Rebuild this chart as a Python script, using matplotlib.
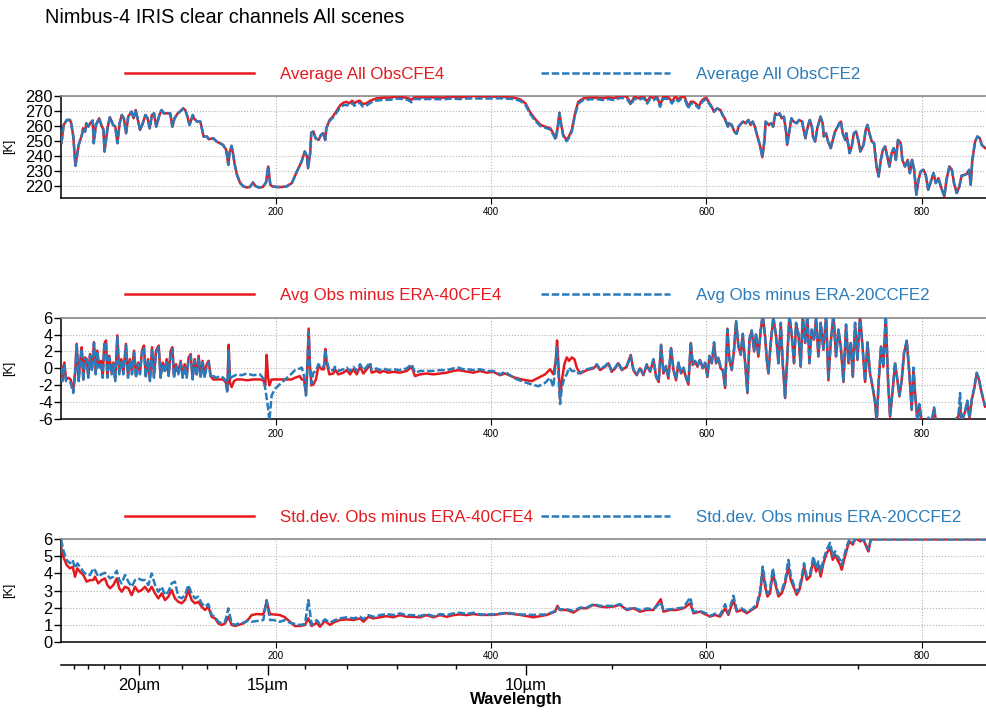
import numpy as np
import matplotlib.pyplot as plt

plt.rcParams['font.family'] = ['Liberation Sans', 'DejaVu Sans']
plt.rcParams['axes.unicode_minus'] = False

RED = '#e6191e'
BLUE = '#2a7bba'
LW = 1.8
DASH = (0, (3.0, 1.1))

# ---------------- panel 1: average brightness temperature [K] ----------------
p1_ch = [
    1, 3, 6, 9, 10, 12, 14, 17, 20, 21,
    23, 24, 26, 28, 30, 31, 33, 36, 38, 40,
    41, 44, 46, 49, 51, 53, 55, 57, 59, 61,
    63, 66, 68, 70, 72, 74, 76, 79, 81, 83,
    85, 87, 89, 92, 94, 96, 99, 102, 104, 106,
    109, 111, 114, 116, 118, 120, 123, 124, 127, 130,
    131, 133, 136, 138, 142, 145, 148, 151, 154, 156,
    157, 159, 160, 162, 164, 167, 170, 173, 176, 179,
    181, 184, 188, 191, 193, 195, 197, 201, 206, 210,
    215, 219, 224, 227, 229, 230, 232, 233, 235, 237,
    240, 242, 244, 246, 247, 250, 253, 257, 260, 263,
    266, 268, 271, 273, 275, 278, 281, 284, 288, 291,
    294, 300, 306, 312, 319, 323, 326, 329, 337, 346,
    356, 362, 371, 377, 384, 390, 408, 421, 427, 432,
    436, 441, 446, 450, 455, 458, 460, 462, 463.5, 465,
    467, 470, 472, 475, 478, 481, 486, 492, 498, 504,
    509, 514, 520, 526, 530, 533, 537, 541.5, 545, 548,
    551, 554, 557, 560, 565, 568, 571, 574, 577, 580,
    583, 585.5, 588, 590, 593, 595, 597, 600, 602, 605,
    607, 610, 613, 615, 617, 620, 621, 623.5, 626, 628,
    630, 632, 634, 636.5, 639, 641, 643, 645, 647, 650,
    652, 654, 655, 658, 660, 662, 664, 666, 668, 670,
    672, 674, 675, 677, 679, 681, 684, 686, 689, 690,
    692, 693, 696, 698, 699, 701, 703, 706, 708, 709,
    711, 713, 715.5, 717, 719.5, 722, 723.5, 725, 726.6, 729,
    730, 733, 735, 737, 739, 741, 743, 746, 748, 749.6,
    751, 753.6, 755.7, 758, 760, 762, 764, 766, 768, 770,
    772, 774, 776, 778, 780.5, 782, 784.5, 787, 789, 791,
    793, 795, 797, 799, 801.6, 803.7, 806, 808, 811, 813,
    815.5, 817.7, 821, 823, 825.7, 828, 830, 832.5, 835, 837,
    840, 842, 844, 845.5, 847, 849.6, 851.7, 854, 855.7, 859,
]
p1_cfe4 = [
    248.7, 260.8, 264.1, 264.1, 261.9, 253.1, 233.7, 247.6, 254.2, 258.6,
    256.4, 261.9, 259.7, 262.4, 263.7, 248.7, 260.8, 265.2, 260.8, 257.5,
    243.2, 259.7, 265.9, 260.8, 259.7, 248.7, 261.9, 267.4, 265.2, 255.3,
    266.3, 269.6, 265.2, 270.7, 264.1, 257.5, 260.8, 267.4, 265.2, 258.6,
    267.4, 268.5, 259.7, 267.4, 270.7, 268.5, 268.5, 268.5, 259.7, 265.2,
    268.5, 269.6, 271.8, 270.7, 266.3, 260.8, 267.4, 265.2, 263.0, 263.0,
    259.7, 253.1, 253.1, 251.3, 252.0, 249.8, 248.7, 247.6, 244.3, 234.3,
    242.1, 246.9, 243.2, 234.3, 227.7, 222.2, 220.0, 219.3, 219.6, 222.6,
    220.4, 219.3, 219.6, 222.6, 233.2, 221.1, 220.0, 219.6, 219.6, 220.0,
    222.2, 228.8, 236.5, 243.2, 239.9, 232.1, 242.1, 255.7, 256.4, 252.0,
    250.9, 254.2, 255.3, 250.9, 258.6, 264.1, 266.3, 270.7, 274.0, 275.6,
    276.2, 275.1, 276.9, 275.1, 276.2, 276.9, 274.7, 275.1, 276.9, 277.8,
    278.5, 278.9, 278.9, 279.6, 279.1, 278.5, 277.4, 279.1, 279.1, 279.1,
    278.9, 279.6, 279.1, 279.6, 280.0, 279.6, 279.6, 278.9, 277.8, 275.1,
    269.6, 264.6, 260.8, 259.7, 258.6, 254.9, 252.0, 259.7, 269.0, 261.9,
    254.2, 250.9, 252.6, 257.5, 268.5, 276.2, 278.5, 278.9, 278.9, 278.5,
    279.1, 278.5, 280.0, 279.6, 275.1, 279.6, 278.5, 280.0, 276.2, 279.6,
    278.5, 280.0, 274.0, 279.6, 279.1, 276.2, 279.6, 277.8, 279.6, 279.1,
    272.9, 276.2, 276.2, 275.1, 272.9, 276.2, 277.8, 278.9, 276.2, 272.9,
    269.6, 271.8, 270.7, 267.4, 265.2, 259.7, 261.9, 260.8, 256.4, 254.9,
    259.7, 261.5, 263.0, 261.9, 264.1, 260.8, 263.0, 259.7, 254.2, 246.5,
    239.4, 250.9, 263.0, 260.8, 261.9, 259.7, 268.5, 267.4, 268.5, 265.2,
    266.3, 256.4, 247.6, 256.4, 265.2, 263.0, 261.9, 264.1, 263.0, 258.6,
    252.0, 256.4, 264.1, 259.7, 253.1, 249.8, 258.6, 266.3, 261.9, 253.1,
    255.3, 249.8, 245.4, 249.8, 256.4, 259.7, 261.9, 263.0, 255.3, 250.9,
    255.3, 242.1, 246.5, 255.3, 256.4, 250.9, 243.2, 247.6, 257.5, 260.8,
    256.4, 249.8, 248.7, 233.2, 226.6, 237.6, 244.3, 246.5, 239.9, 233.2,
    242.1, 245.4, 237.6, 250.9, 248.7, 237.6, 233.2, 237.6, 228.8, 237.6,
    231.0, 214.5, 224.4, 229.9, 231.0, 227.7, 217.8, 222.2, 228.8, 222.2,
    225.5, 220.0, 213.4, 224.4, 233.2, 231.0, 222.2, 215.6, 220.0, 227.1,
    227.7, 228.4, 231.0, 221.1, 237.6, 249.8, 253.1, 252.0, 247.6, 245.4,
]
p1_cfe2 = [
    248.7, 260.8, 264.1, 264.1, 261.9, 253.1, 233.7, 247.6, 254.2, 258.6,
    256.4, 261.9, 259.7, 262.4, 263.7, 248.7, 260.8, 265.2, 260.8, 257.5,
    243.2, 259.7, 265.9, 260.8, 259.7, 248.7, 261.9, 267.4, 265.2, 255.3,
    266.3, 269.6, 265.2, 270.7, 264.1, 257.5, 260.8, 267.4, 265.2, 258.6,
    267.4, 268.5, 259.7, 267.4, 270.7, 268.5, 268.5, 268.5, 259.7, 265.2,
    268.5, 269.6, 271.8, 270.7, 266.3, 260.8, 267.4, 265.2, 263.0, 263.0,
    259.7, 253.1, 253.1, 251.3, 252.0, 249.8, 248.7, 247.6, 244.3, 234.3,
    242.1, 246.9, 243.2, 234.3, 227.7, 222.2, 220.0, 219.3, 219.6, 222.6,
    220.4, 219.3, 219.6, 222.6, 233.2, 221.1, 220.0, 219.6, 219.6, 220.0,
    222.2, 228.8, 236.5, 243.2, 239.9, 232.1, 242.1, 255.7, 256.4, 252.0,
    250.9, 254.2, 255.3, 250.9, 258.6, 263.5, 265.5, 269.5, 272.5, 274.0,
    274.0, 273.5, 275.5, 273.5, 275.0, 275.5, 273.0, 273.5, 275.5, 276.5,
    277.0, 277.5, 277.5, 278.3, 278.0, 277.3, 275.8, 278.0, 278.0, 278.0,
    277.8, 278.3, 278.0, 278.3, 278.5, 278.3, 278.5, 278.0, 276.8, 274.0,
    268.5, 263.5, 260.0, 259.0, 257.8, 254.0, 251.0, 259.0, 268.5, 261.0,
    253.5, 250.0, 251.8, 256.5, 267.5, 275.0, 277.5, 277.8, 278.0, 277.3,
    278.0, 277.3, 278.8, 278.3, 274.0, 278.3, 277.3, 278.8, 275.0, 278.3,
    277.3, 278.8, 272.8, 278.3, 278.0, 275.0, 278.3, 276.5, 278.3, 278.0,
    271.8, 275.0, 275.0, 274.0, 271.8, 275.0, 276.8, 277.8, 275.5, 272.3,
    269.6, 271.8, 270.7, 267.4, 265.2, 259.7, 261.9, 260.8, 256.4, 254.9,
    259.7, 261.5, 263.0, 261.9, 264.1, 260.8, 263.0, 259.7, 254.2, 246.5,
    239.4, 250.9, 263.0, 260.8, 261.9, 259.7, 268.5, 267.4, 268.5, 265.2,
    266.3, 256.4, 247.6, 256.4, 265.2, 263.0, 261.9, 264.1, 263.0, 258.6,
    252.0, 256.4, 264.1, 259.7, 253.1, 249.8, 258.6, 266.3, 261.9, 253.1,
    255.3, 249.8, 245.4, 249.8, 256.4, 259.7, 261.9, 263.0, 255.3, 250.9,
    255.3, 242.1, 246.5, 255.3, 256.4, 250.9, 243.2, 247.6, 257.5, 260.8,
    256.4, 249.8, 248.7, 233.2, 226.6, 237.6, 244.3, 246.5, 239.9, 233.2,
    242.1, 245.4, 237.6, 250.9, 248.7, 237.6, 233.2, 237.6, 228.8, 237.6,
    231.0, 214.5, 224.4, 229.9, 231.0, 227.7, 217.8, 222.2, 228.8, 222.2,
    225.5, 220.0, 213.4, 224.4, 233.2, 231.0, 222.2, 215.6, 220.0, 227.1,
    227.7, 228.4, 231.0, 221.1, 237.6, 249.8, 253.1, 252.0, 247.6, 245.4,
]

# ---------------- panel 2: mean obs minus reanalysis [K] ----------------
p2_ch = [
    1, 2, 3.7, 5.2, 7.4, 9.5, 12, 13.9, 15.1, 17,
    18.2, 19.8, 21.3, 22.8, 24.4, 25.9, 27.5, 29.3, 31.2, 32.8,
    34.3, 35.8, 37.7, 39.3, 40.8, 42.4, 43.6, 45.4, 47.6, 49.2,
    51, 52.9, 54.7, 56.6, 58.5, 60.9, 62.8, 64.6, 66.5, 68.4,
    70.2, 72.1, 73.9, 75.8, 77.6, 79.2, 81.4, 83.2, 85.1, 86.9,
    88.8, 91.3, 93.1, 95, 97.2, 98.7, 100.6, 102.4, 104, 105.5,
    107.4, 109.5, 111.7, 113.6, 115.4, 117.3, 119.1, 121, 122.8, 124.7,
    126.6, 128.4, 130.3, 132.1, 134, 135.9, 137.7, 139.6, 142, 145.1,
    148.2, 151.3, 153.8, 155, 156.3, 157.5, 159.1, 161.2, 163.7, 168.4,
    173, 179.2, 185.4, 188.5, 190.3, 191.6, 192.8, 194.1, 196.2, 199.3,
    207.1, 214.8, 217.9, 222.5, 224.1, 226.3, 228.1, 229.3, 230.6, 231.8,
    233.1, 234.9, 237.4, 239.6, 242.7, 244.8, 246.1, 247.3, 249.8, 253.5,
    255, 258.1, 262.8, 265.9, 269, 272.1, 275.2, 278.3, 281.4, 284.5,
    287.6, 289.1, 293.7, 296.8, 299.9, 304.6, 309.2, 315.4, 321.6, 326.3,
    329.3, 334, 340.2, 346.4, 352.6, 358.8, 365, 369.6, 374.2, 378.9,
    383.5, 389.7, 395.9, 402.1, 408.3,
    413, 422.3, 428.5, 437.8, 444, 450.2, 454.8, 457.9, 460.1, 461.3,
    462.6, 464.1, 465.7, 468.1, 470.3, 472.5, 475, 477.4, 479.6,
    482.7, 488.9, 495, 498.2, 501.3, 505.9, 509, 512, 515.2, 518.3,
    521.4, 526, 529.7, 532.2, 535.3, 538.4, 541.5, 544.6, 547.7, 550.8,
    553.3, 555.7, 557.9, 560.1, 562.5, 564.7, 567.2, 569.4, 571.8, 574,
    576.5, 578.7, 580.8, 583.3, 585.5, 587.3, 589.5, 591.7, 594.1, 596.6,
    598.8, 601, 602.8, 605, 607.1, 609, 611.2, 613.3, 615.2, 617.4,
    619.5, 621.4, 623.5, 625.7, 627.6, 629.7, 631.9, 633.8, 636, 638.1,
    640, 642.1, 644.3, 646.1, 648.3, 650.5, 652.3, 654.5, 656.1, 657.6,
    659.8, 662.2, 664.7, 666.9, 669.1, 670.9, 673.1, 675.2, 677.1, 679.3,
    681.4, 683.3, 685.5, 687.6, 689.5, 691.7, 693.8, 695.7, 697.8, 700,
    701.9, 704, 706.2, 708.7, 711.2, 713.3, 715.5, 718, 720.4, 722.6,
    724.8, 727.3, 729.7, 732, 734.1, 736, 738.1, 740.3, 742.7, 745.2,
    747.4, 749.6, 752, 754.5, 756.7, 758.2, 760.1, 762.2, 764.4, 766.6,
    768.7, 770.6, 773.1, 775.2, 777.4, 779.3, 781.4, 783.6, 786.1, 788.5,
    790.7, 792.3, 793.8, 796, 797.8, 800, 803.1, 806.2, 809.3, 811.5,
    813.3, 817, 823.2, 829.4, 834.1, 835.6, 837.2, 840.3, 842.4, 844.3,
    846.5, 848.6, 851.1, 852.9, 855.7, 858.8,
]
p2_era40 = [
    0.3, -1.3, 0.7, -1.3, -1.1, -1.3, -2.6, -0.1, 2.9, -1.3,
    0.7, 2.5, -1.3, 1.3, 1.1, -0.9, 1.7, -0.1, 3.1, -0.5,
    2.1, 0.3, 0.9, -0.9, 2.9, 3.3, -0.9, 1.5, -0.5, 0.7,
    -1.3, 3.9, -0.5, 1.1, -0.5, 2.9, -0.9, 1.1, -0.5, 2.1,
    -0.9, 0.7, -0.5, 2.1, 2.7, -0.9, 1.1, -1.3, 2.5, -0.9,
    2.1, 2.7, -0.9, 0.7, -0.3, 1.1, -0.7, 2.1, 2.5, -0.9,
    0.5, -0.5, 0.9, -0.9, 0.5, -0.9, 1.3, 1.7, -1.1, 1.1,
    -0.7, 1.5, -0.9, 0.9, -0.9, 0.5, 0.9, -0.9, -1.3, -1.3,
    -1.3, -1.3, -1.7, -2.6, 2.8, -1.7, -2.2, -1.5, -1.3, -1.3,
    -1.4, -1.3, -1.3, -1.4, -2.0, 1.6, -0.9, -2.0, -1.3, -1.3,
    -1.3, -1.3, -1.1, -0.9, -1.3, -1.3, -3.0, -0.1, 4.7, 0.3,
    -2.0, -1.9, -1.3, 0.3, -0.1, -0.1, 2.3, 0.7, -0.7, -0.6,
    -0.1, -0.7, -0.5, -0.2, -0.7, -0.1, -0.7, 0.2, -0.6, -0.1,
    0.5, -0.5, -0.3, -0.5, -0.3, -0.5, -0.4, -0.5, -0.3, 0.2,
    -0.9, -0.7, -0.6, -0.7, -0.6, -0.5, -0.3, -0.2, -0.3, -0.4,
    -0.5, -0.3, -0.5, -0.4, -0.8,
    -0.6, -1.1, -1.3, -1.5, -1.1, -0.7, -0.1, -0.7, 0.9, 3.3,
    0.5, -3.6, -1.5, 0.5, 1.3, 0.9, 1.3, 1.1, 0.1,
    -0.6, -0.2, 0.0, 0.4, -0.2, 0.2, 0.6, -0.4, 0.0, 0.6,
    -0.2, 0.2, 1.6, -0.2, -0.8, 0.0, -0.8, 0.4, -0.4, 1.0,
    -1.0, -1.6, 2.8, -0.6, 0.2, -1.2, 2.4, -0.2, -1.4, 0.6,
    -0.6, 0.0, -1.0, -1.9, 3.0, 0.4, 0.8, 0.2, 1.0, 0.0,
    0.6, -1.0, 1.4, 0.6, 3.0, 0.6, 1.2, 0.0, -0.2, -2.3,
    4.7, 1.0, -0.2, 2.2, 5.5, 2.6, 1.6, 4.0, 0.6, -2.9,
    3.4, 4.4, 2.0, 4.0, 1.4, 4.5, 6.3, 3.8, 1.0, -0.6,
    3.0, 6.0, 3.8, 0.6, 5.3, 0.6, -3.5, 1.4, 6.3, 3.8,
    0.6, 5.3, 4.0, 0.2, 6.3, 3.0, 6.3, 0.6, 4.5, 3.4,
    5.9, 1.4, 5.3, 2.2, 6.3, -1.4, 3.0, 6.3, 1.4, 4.5,
    2.6, -1.6, 5.1, 0.6, 3.0, -1.0, 5.3, 1.0, 6.3, 2.2,
    -1.6, 3.0, -0.6, -2.3, -4.1, -6.3, -1.4, 2.6, 0.2, 6.3,
    -1.4, -5.7, -2.5, 0.6, -1.4, -3.3, -1.4, 1.8, 3.2, -0.6,
    -4.9, 0.0, -2.9, -6.3, -4.3, -6.3, -6.3, -5.9, -6.3, -4.7,
    -6.3, -6.3, -6.3, -6.3, -5.7, -4.5, -6.3, -5.1, -3.9, -5.9,
    -3.7, -2.5, -0.6, -1.2, -2.9, -4.5,
]
p2_era20c = [
    0.1, -1.5, 0.5, -1.5, -1.5, -1.7, -2.9, -0.3, 2.9, -1.5,
    0.5, 2.3, -1.5, 1.1, 1.1, -1.1, 1.5, -0.3, 3.0, -0.7,
    2.0, 0.1, 0.7, -1.1, 2.7, 3.1, -1.1, 1.3, -0.7, 0.5,
    -1.5, 3.7, -0.7, 0.9, -0.7, 2.7, -1.1, 0.9, -0.7, 1.9,
    -1.1, 0.5, -0.7, 1.9, 2.5, -1.1, 0.9, -1.5, 2.3, -1.1,
    1.9, 2.5, -1.1, 0.5, -0.5, 0.9, -0.9, 1.9, 2.3, -1.1,
    0.3, -0.7, 0.7, -1.1, 0.3, -1.1, 1.1, 1.5, -1.3, 0.9,
    -0.9, 1.3, -1.1, 0.7, -1.1, 0.3, 0.7, -1.1, -0.9, -1.1,
    -0.9, -1.1, -1.5, -2.9, 2.2, -1.3, -1.0, -0.9, -0.7, -0.8,
    -0.6, -0.8, -0.7, -1.2, -2.4, -3.5, -4.6, -6.2, -3.2, -2.4,
    -1.5, -0.6, -0.2, 0.0, 0.1, -0.9, -3.2, -0.1, 4.3, 0.3,
    -1.8, -0.5, -0.3, 0.5, 0.1, 0.3, 2.2, 0.9, -0.2, -0.2,
    0.2, -0.3, -0.1, 0.1, -0.3, 0.2, -0.3, 0.5, -0.2, 0.2,
    0.7, -0.2, 0.0, -0.2, 0.0, -0.2, -0.1, -0.2, 0.0, 0.5,
    -0.5, -0.3, -0.3, -0.3, -0.2, -0.2, 0.0, 0.1, -0.1, -0.1,
    -0.2, -0.1, -0.3, -0.3, -0.7,
    -0.4, -1.2, -1.5, -1.9, -2.1, -1.7, -1.1, -2.2, 0.9, 2.5,
    -0.9, -4.2, -2.3, -1.1, -0.7, 0.1, -0.3, -0.3, -0.6,
    -0.5, -0.1, 0.1, 0.5, -0.1, 0.3, 0.7, -0.3, 0.1, 0.7,
    -0.1, 0.3, 1.5, -0.1, -0.7, 0.1, -0.7, 0.5, -0.3, 1.1,
    -0.9, -1.5, 2.7, -0.5, 0.3, -1.1, 2.5, -0.1, -1.3, 0.7,
    -0.5, 0.1, -0.9, -1.8, 3.1, 0.5, 0.9, 0.3, 1.1, 0.1,
    0.7, -0.9, 1.5, 0.7, 3.1, 0.7, 1.3, 0.1, -0.1, -2.2,
    4.6, 1.1, -0.1, 2.3, 5.6, 2.7, 1.7, 4.1, 0.7, -2.8,
    3.5, 4.5, 2.1, 4.1, 1.5, 4.6, 6.3, 3.9, 1.1, -0.5,
    3.1, 6.1, 3.9, 0.7, 5.4, 0.7, -3.4, 1.5, 6.3, 3.9,
    0.7, 5.4, 4.1, 0.3, 6.3, 3.1, 6.3, 0.7, 4.6, 3.5,
    6.0, 1.5, 5.4, 2.3, 6.3, -1.3, 3.1, 6.3, 1.5, 4.6,
    2.7, -1.5, 5.2, 0.7, 3.1, -0.9, 5.4, 1.1, 6.3, 2.3,
    -1.5, 3.1, -0.5, -2.2, -4.0, -6.3, -1.3, 2.7, 0.3, 6.3,
    -1.3, -5.6, -2.4, 0.7, -1.3, -3.2, -1.3, 1.9, 3.3, -0.5,
    -4.8, 0.1, -2.8, -6.3, -4.2, -6.3, -6.3, -5.8, -6.3, -4.6,
    -6.3, -6.3, -6.3, -6.3, -5.6, -2.9, -6.3, -5.0, -3.8, -5.8,
    -3.6, -2.4, -0.5, -1.1, -2.8, -4.4,
]

# ---------------- panel 3: std. dev. obs minus reanalysis [K] ----------------
p3_ch = [
    0.6, 2.7, 5.8, 8.9, 11.4, 13.6, 15.7, 18.2, 21.3, 24.4,
    27.5, 30.6, 32.1, 35.2, 38.3, 41.4, 43.6, 46.1, 49.2, 52.3,
    54.7, 56.9, 60, 63.1, 66.2, 69.3, 72.4, 75.5, 78.6, 81.7,
    84.8, 87.9, 91, 94.1, 97.2, 100.3, 103.3, 106.4, 109.5, 112.6,
    115.7, 118.8, 121.9, 125, 128.1, 131.2, 134.3, 137.4, 140.5, 143.6,
    146.7, 149.8, 152.9, 156, 159.1, 162.2, 165.3, 169.9, 174.6, 177.6,
    182.3, 188.5, 191.6, 194.7, 197.8, 204, 208.6, 213.2, 217.9, 222.5,
    227.2, 230.3, 233.4, 238, 241.1, 245.8, 250.4, 255, 259.7, 265.9,
    272.1, 278.3, 281.4, 286, 290.7, 296.8, 303, 309.2, 315.4, 321.6,
    327.8, 334, 340.2, 346.4, 352.6, 358.8, 365, 371.1, 377.3, 383.5,
    390, 402, 414.6, 427, 439.3, 451.7, 459.5, 461.6, 464, 470.3,
    476.5, 482.7, 488.9, 495, 501.3, 507.4, 513.6, 519.8, 526, 532.2,
    538.4, 544.6, 550.8, 557.6, 560.1, 566.3, 572.5, 578.7, 585, 588,
    594.1, 600.3, 603.4, 608.1, 612.7, 617.4, 620.4, 625.1, 628.2, 632.8,
    637.5, 642.1, 646.8, 649.9, 652.3, 654.5, 656.7, 659.1, 661.6, 663.8,
    666.9, 670, 673.1, 676.2, 678.3, 680.8, 683.9, 686.4, 688.6, 690.7,
    693.2, 696.3, 699.4, 701.9, 704, 706.2, 708.7, 711.8, 714.9, 717.4,
    719.5, 721.7, 724.2, 725.7, 727.9, 730.4, 732.8, 736, 738.1, 740.3,
    742.8, 745.8, 749, 750.5, 752.7, 760, 780, 800, 820, 840,
    860,
]
p3_era40 = [
    5.57, 4.98, 4.49, 4.30, 4.39, 3.81, 4.30, 4.10, 3.91, 3.52,
    3.61, 3.61, 3.81, 3.42, 3.61, 3.71, 3.32, 3.13, 3.32, 3.71,
    3.13, 2.93, 3.22, 3.13, 2.73, 3.22, 2.93, 3.03, 3.22, 2.93,
    3.22, 2.83, 2.54, 2.83, 2.44, 2.64, 3.03, 2.54, 2.34, 2.25,
    2.44, 3.03, 2.44, 2.25, 2.34, 2.05, 1.86, 2.05, 1.46, 1.37,
    1.07, 0.98, 1.07, 1.46, 0.98, 0.92, 0.98, 1.07, 1.31, 1.56,
    1.62, 1.60, 2.34, 1.62, 1.60, 1.56, 1.43, 1.17, 0.92, 0.92,
    0.98, 1.37, 0.92, 1.11, 0.88, 1.23, 0.98, 1.17, 1.27, 1.31,
    1.27, 1.37, 1.17, 1.46, 1.37, 1.43, 1.50, 1.43, 1.56, 1.46,
    1.46, 1.43, 1.56, 1.43, 1.56, 1.46, 1.56, 1.60, 1.56, 1.62,
    1.57, 1.57, 1.67, 1.57, 1.43, 1.57, 1.76, 2.10, 1.86, 1.86,
    1.71, 1.96, 1.96, 2.16, 2.06, 2.02, 2.06, 2.16, 1.86, 1.96,
    1.76, 1.86, 1.86, 2.49, 1.76, 1.86, 1.86, 1.96, 2.25, 1.67,
    1.76, 1.57, 1.47, 1.57, 1.47, 1.96, 1.57, 2.45, 1.76, 1.86,
    1.67, 1.86, 2.06, 2.84, 4.22, 3.24, 2.65, 2.84, 4.02, 3.43,
    2.65, 2.84, 3.43, 4.41, 3.63, 3.24, 2.75, 3.04, 3.63, 4.41,
    3.63, 3.82, 4.80, 4.12, 4.51, 3.82, 4.61, 5.20, 5.49, 4.80,
    5.10, 4.80, 4.51, 4.22, 4.80, 5.39, 5.88, 5.69, 6.00, 6.00,
    5.88, 6.00, 5.49, 5.29, 6.00, 6.00, 6.00, 6.00, 6.00, 6.00,
    6.00,
]
p3_era20c = [
    6.00, 5.37, 4.79, 4.59, 4.79, 4.30, 4.59, 4.39, 4.10, 3.91,
    3.91, 4.30, 4.20, 3.81, 3.96, 4.04, 3.91, 3.71, 3.81, 4.16,
    3.61, 3.42, 3.91, 3.52, 3.22, 3.61, 3.71, 3.61, 3.61, 3.32,
    4.00, 3.32, 2.93, 3.22, 2.73, 2.93, 3.42, 3.52, 2.64, 2.54,
    2.73, 3.32, 2.83, 2.54, 2.64, 2.25, 2.05, 2.21, 1.56, 1.46,
    1.17, 1.07, 1.17, 1.95, 1.07, 0.98, 1.07, 1.11, 1.23, 1.17,
    1.21, 1.27, 2.44, 1.27, 1.27, 1.17, 1.27, 1.11, 1.04, 0.98,
    1.04, 2.44, 0.98, 1.27, 1.04, 1.31, 1.11, 1.27, 1.37, 1.43,
    1.37, 1.46, 1.31, 1.56, 1.46, 1.56, 1.62, 1.56, 1.66, 1.56,
    1.56, 1.50, 1.62, 1.50, 1.62, 1.56, 1.66, 1.70, 1.62, 1.70,
    1.60, 1.60, 1.70, 1.60, 1.57, 1.60, 1.80, 2.00, 1.90, 1.90,
    1.80, 2.00, 2.00, 2.20, 2.10, 2.10, 2.10, 2.20, 1.90, 2.00,
    1.85, 1.95, 1.90, 2.30, 1.85, 1.90, 1.95, 2.00, 2.60, 1.75,
    1.80, 1.65, 1.50, 1.65, 1.55, 2.20, 1.65, 2.70, 1.85, 1.95,
    1.75, 1.90, 2.20, 3.00, 4.40, 3.50, 2.80, 3.00, 4.30, 3.60,
    2.80, 3.00, 3.60, 4.80, 3.90, 3.40, 2.90, 3.20, 3.80, 4.60,
    3.80, 4.00, 5.00, 4.30, 4.70, 4.10, 4.80, 5.40, 5.80, 5.00,
    5.30, 5.00, 4.80, 4.50, 5.00, 5.60, 6.00, 5.80, 6.00, 6.00,
    6.00, 6.00, 5.60, 5.40, 6.00, 6.00, 6.00, 6.00, 6.00, 6.00,
    6.00,
]

labels = [
    ('Average All ObsCFE4', 'Average All ObsCFE2'),
    ('Avg Obs minus ERA-40CFE4', 'Avg Obs minus ERA-20CCFE2'),
    ('Std.dev. Obs minus ERA-40CFE4', 'Std.dev. Obs minus ERA-20CCFE2'),
]
series = [
    (p1_ch, p1_cfe4, p1_cfe2),
    (p2_ch, p2_era40, p2_era20c),
    (p3_ch, p3_era40, p3_era20c),
]
ylims = [(212.5, 280), (-6, 6), (0, 6)]
yticks = [np.arange(220, 281, 10), np.arange(-6, 7, 2), np.arange(0, 7, 1)]
# [left, bottom, width, height] in figure fractions
boxes = [
    [0.0619, 0.7235, 0.9381, 0.1422],
    [0.0619, 0.4136, 0.9381, 0.1422],
    [0.0619, 0.1025, 0.9381, 0.1432],
]


# IRIS channel index <-> wavelength in micrometres
def ch_to_um(ch):
    ch = np.asarray(ch, dtype=float)
    return 1e4 / (398.8 + 1.39 * ch)


def um_to_ch(um):
    um = np.asarray(um, dtype=float)
    return (1e4 / um - 398.8) / 1.39


fig = plt.figure(figsize=(9.86, 7.15), dpi=100)
fig.text(0.0456, 0.975, 'Nimbus-4 IRIS clear channels All scenes',
         fontsize=14.3, va='center', ha='left')

axes = []
for i, (box, (x, r, b), (lr, lb)) in enumerate(zip(boxes, series, labels)):
    ax = fig.add_axes(box)
    axes.append(ax)
    line_r, = ax.plot(x, r, color=RED, lw=LW, solid_joinstyle='round', zorder=3)
    line_b, = ax.plot(x, b, color=BLUE, lw=LW, linestyle=DASH, zorder=4)

    ax.set_xlim(0.6, 859.7)
    ax.set_ylim(*ylims[i])
    ax.set_yticks(yticks[i])
    ax.set_xticks([200, 400, 600, 800])
    ax.grid(True, linestyle=':', color='#b4b4b4', linewidth=0.8, zorder=0)

    ax.spines['right'].set_visible(False)
    ax.spines['top'].set_color('#8a8a8a')
    ax.spines['top'].set_linewidth(1.2)
    ax.spines['left'].set_linewidth(1.1)
    ax.spines['bottom'].set_linewidth(1.1)
    ax.tick_params(axis='y', direction='out', length=5, width=1, pad=1, labelsize=11.8)
    ax.tick_params(axis='x', direction='out', length=4, width=0.8, pad=3, labelsize=7)

    ax.set_ylabel('[K]', fontsize=9)
    ax.yaxis.set_label_coords(-0.05, 0.5)

    common = dict(loc='center left', frameon=False, fontsize=12.2, handlelength=7.6,
                  handletextpad=1.55, borderpad=0, borderaxespad=0)
    leg1 = ax.legend([line_r], [lr], bbox_to_anchor=(0.0692, 1.215), labelcolor=RED, **common)
    ax.add_artist(leg1)
    ax.legend([line_b], [lb], bbox_to_anchor=(0.519, 1.215), labelcolor=BLUE, **common)

# wavelength scale under the bottom panel
ax3 = axes[2]
sec = ax3.secondary_xaxis(-0.228, functions=(ch_to_um, um_to_ch))
sec.set_xticks([20, 15, 10], labels=['20µm', '15µm', '10µm'])
sec.set_xticks([24, 23, 22, 21, 19, 18, 17, 16, 14, 13, 12, 11, 9, 8, 7], minor=True)
sec.xaxis.set_minor_formatter(plt.NullFormatter())
sec.tick_params(which='major', direction='out', length=7.5, width=1, pad=2, labelsize=12)
sec.tick_params(which='minor', direction='out', length=3, width=1)
sec.spines['bottom'].set_linewidth(1.1)
sec.set_xlabel('Wavelength', fontsize=12, fontweight='bold', labelpad=-1, x=0.492)

fig.savefig('out.png', dpi=100)
